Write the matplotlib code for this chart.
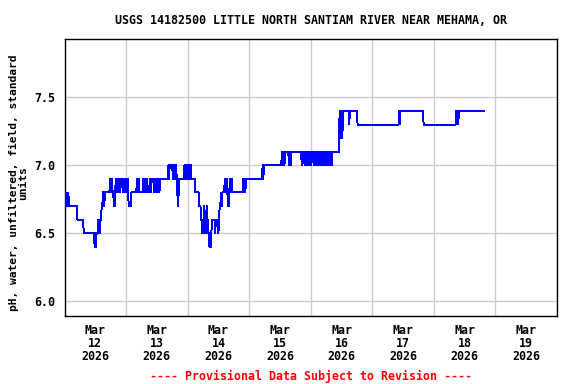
import matplotlib
matplotlib.use('Agg')
import matplotlib.pyplot as plt
import matplotlib.dates as mdates
import numpy as np
import pandas as pd

plt.rcParams['font.family'] = 'DejaVu Sans Mono'
plt.rcParams['font.weight'] = 'bold'
plt.rcParams['font.size'] = 8.4

# pH readings every 15 minutes, stored as runs: value and number of readings
ph_values = [
    6.8, 6.7, 6.8, 6.7, 6.8, 6.7,
    6.7, 6.6, 6.5,
    6.4, 6.5, 6.4, 6.5,
    6.5, 6.6, 6.5, 6.6,
    6.7, 6.8, 6.7, 6.8,
    6.8, 6.9, 6.8, 6.9, 6.8,
    6.8, 6.7, 6.8,
    6.9, 6.8, 6.9, 6.8, 6.9, 6.8, 6.9, 6.8, 6.9,
    6.7, 6.8, 6.9, 6.8, 6.9, 6.8,
    6.9, 6.8, 6.9, 6.8,
    6.8, 6.9, 6.8, 6.9,
    6.9, 6.8, 6.9, 6.8, 6.9, 6.8, 6.9,
    6.9, 7.0, 6.9, 7.0,
    6.9, 7.0, 6.9, 7.0,
    6.9, 6.8, 6.7, 6.8, 6.9,
    7.0, 6.9, 7.0, 6.9, 7.0, 6.9, 7.0,
    6.9, 6.8, 6.7, 6.6,
    6.5, 6.6, 6.5, 6.7, 6.6, 6.5, 6.6, 6.7, 6.6,
    6.5, 6.4, 6.5, 6.4, 6.5,
    6.6, 6.5, 6.6, 6.5, 6.6,
    6.7, 6.8, 6.7,
    6.8, 6.9, 6.8, 6.9, 6.8,
    6.7, 6.8, 6.9, 6.8, 6.9, 6.8,
    6.8, 6.9, 6.8, 6.9, 6.8, 6.9,
    6.9, 7.0, 6.9, 7.0,
    7.1, 7.0, 7.1, 7.0,
    7.1, 7.0, 7.1, 7.0, 7.1,
    7.0, 7.1, 7.0, 7.1, 7.0, 7.1, 7.0, 7.1, 7.0,
    7.1, 7.0, 7.1, 7.0, 7.1, 7.0, 7.1, 7.0, 7.1, 7.0,
    7.1,
    7.4, 7.2, 7.4, 7.3, 7.2, 7.3,
    7.4, 7.3, 7.4,
    7.3,
    7.4, 7.3, 7.4,
    7.3,
    7.4, 7.3, 7.4, 7.3,
    7.4,
]
ph_counts = [
    2, 1, 1, 2, 1, 2,
    11, 10, 17,
    1, 1, 1, 1,
    2, 2, 1, 2,
    2, 2, 1, 2,
    6, 2, 1, 1, 1,
    1, 2, 1,
    2, 2, 2, 2, 3, 2, 2, 2, 3,
    4, 9, 2, 1, 1, 6,
    3, 1, 2, 2,
    2, 1, 2, 1,
    3, 1, 2, 2, 3, 1, 12,
    1, 1, 1, 5,
    1, 2, 2, 1,
    1, 1, 1, 1, 8,
    2, 1, 3, 1, 2, 1, 1,
    6, 6, 3, 2,
    1, 1, 1, 1, 1, 1, 1, 1, 1,
    2, 1, 1, 1, 1,
    5, 1, 4, 1, 1,
    2, 1, 1,
    4, 2, 1, 1, 1,
    2, 1, 1, 2, 1, 1,
    16, 1, 1, 1, 1, 25,
    1, 1, 1, 28,
    1, 1, 2, 1,
    6, 1, 2, 1, 16,
    2, 3, 2, 2, 3, 2, 2, 3, 2,
    3, 3, 2, 3, 3, 3, 2, 3, 3, 2,
    11,
    1, 1, 1, 1, 1, 1,
    9, 1, 12,
    65,
    1, 1, 36,
    51,
    1, 1, 1, 1,
    40,
]

start = pd.Timestamp('2026-03-12 00:00')
ph = np.repeat(ph_values, ph_counts)
times = pd.date_range(start, periods=len(ph), freq='15min')

fig = plt.figure(figsize=(5.76, 3.84), dpi=100)
ax = fig.add_axes([64.5 / 576, 1 - 316 / 384, (557 - 64.5) / 576, (316 - 39) / 384])

ax.plot(times, ph, color='#0000ff', lw=0.7, antialiased=False, zorder=3)

ax.set_xlim(pd.Timestamp('2026-03-12'), pd.Timestamp('2026-03-20'))
ax.set_ylim(5.89, 7.93)

# day labels at noon, gridlines at midnight
ax.xaxis.set_major_locator(mdates.HourLocator(byhour=[12]))
ax.xaxis.set_major_formatter(mdates.DateFormatter('%b\n%d\n%Y'))
ax.xaxis.set_minor_locator(mdates.DayLocator())
ax.grid(which='minor', axis='x', color='#cccccc', lw=1)
ax.set_yticks([6.0, 6.5, 7.0, 7.5])
ax.yaxis.set_major_formatter(matplotlib.ticker.FormatStrFormatter('%.1f'))
ax.grid(which='major', axis='y', color='#cccccc', lw=1)
ax.tick_params(axis='both', which='both', length=0)
ax.tick_params(axis='x', pad=6)
ax.tick_params(axis='y', pad=7)
for lbl in ax.get_xticklabels():
    lbl.set_linespacing(1.0)

for s in ax.spines.values():
    s.set_color('black')
    s.set_linewidth(1)

fig.text(18.5 / 576, 1 - 183 / 384, 'pH, water, unfiltered, field, standard\nunits',
         rotation=90, ha='center', va='center', fontsize=8.1, linespacing=1.0)

fig.text(311 / 576, 1 - 20 / 384, 'USGS 14182500 LITTLE NORTH SANTIAM RIVER NEAR MEHAMA, OR',
         ha='center', va='center')
fig.text(311 / 576, 1 - 376 / 384, '---- Provisional Data Subject to Revision ----',
         ha='center', va='center', color='red')

fig.savefig('out.png', dpi=100)
